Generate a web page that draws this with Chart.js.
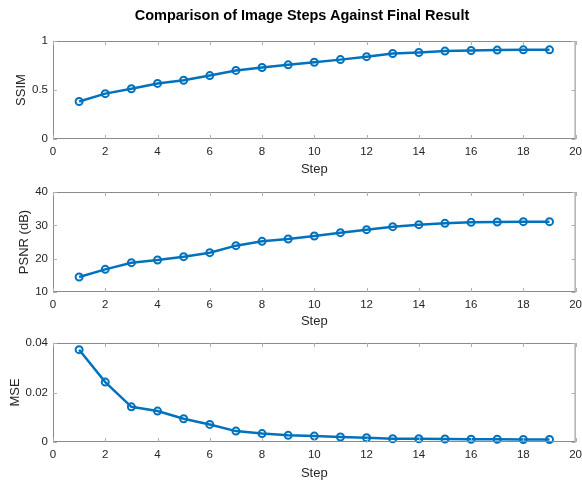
<!DOCTYPE html>
<html>
<head>
<meta charset="utf-8">
<script src="https://cdn.jsdelivr.net/npm/chart.js@4"></script>
<style>
  html, body { margin: 0; padding: 0; background: #fff; }
  #wrap { position: relative; width: 582px; height: 481px; }
  .panel { position: absolute; left: 0; width: 582px; }
  #titulo {
    position: absolute; top: 6px; left: 102px; width: 400px; text-align: center;
    font: bold 14.5px "Liberation Sans", Arial, Helvetica, sans-serif; color: #000;
    line-height: 18px; z-index: 2;
  }
</style>
</head>
<body>
<div id="wrap">
  <div id="titulo">Comparison of Image Steps Against Final Result</div>
  <div class="panel" style="top:0;height:176px"><canvas id="ssimChart"></canvas></div>
  <div class="panel" style="top:176px;height:153px"><canvas id="psnrChart"></canvas></div>
  <div class="panel" style="top:329px;height:152px"><canvas id="mseChart"></canvas></div>
</div>
<script>
// dados
const steps = [1, 2, 3, 4, 5, 6, 7, 8, 9, 10, 11, 12, 13, 14, 15, 16, 17, 18, 19];
const ssim = [0.383, 0.463, 0.513, 0.567, 0.60, 0.647, 0.70, 0.73, 0.757, 0.783, 0.81, 0.84, 0.873, 0.883, 0.897, 0.903, 0.907, 0.91, 0.91];
const psnr = [14.5, 16.8, 18.8, 19.6, 20.6, 21.8, 23.9, 25.2, 25.9, 26.8, 27.8, 28.7, 29.6, 30.2, 30.6, 30.9, 31.0, 31.1, 31.1];
const mse = [0.0373, 0.0242, 0.0142, 0.0125, 0.0094, 0.0071, 0.0044, 0.0034, 0.0027, 0.0024, 0.0020, 0.0017, 0.0013, 0.0013, 0.0012, 0.0011, 0.0011, 0.0010, 0.0010];
const xTicks = [0, 2, 4, 6, 8, 10, 12, 14, 16, 18, 20];
const ssimTicks = [0, 0.5, 1];
const psnrTicks = [10, 20, 30, 40];
const mseTicks = [0, 0.02, 0.04];

const BLUE = '#0072BD';
const TEXT = '#262626';
const BOX = '#8a8a8a';
const FONT = '"Liberation Sans", Arial, Helvetica, sans-serif';

// moldura + marcas internas no estilo MATLAB
const boxPlugin = {
    id: 'boxPlugin',
    afterDraw(chart) {
        const { ctx, chartArea: a, scales } = chart;
        ctx.save();
        ctx.strokeStyle = BOX;
        ctx.lineWidth = 1;
        ctx.strokeRect(a.left + 0.5, a.top + 0.5, a.right - a.left - 1, a.bottom - a.top - 1);
        ctx.strokeStyle = '#b0b0b0';
        ctx.beginPath();
        scales.x.ticks.forEach(t => {
            const px = Math.round(scales.x.getPixelForValue(t.value)) + 0.5;
            ctx.moveTo(px, a.bottom); ctx.lineTo(px, a.bottom - 4);
            ctx.moveTo(px, a.top); ctx.lineTo(px, a.top + 4);
        });
        scales.y.ticks.forEach(t => {
            const py = Math.round(scales.y.getPixelForValue(t.value)) + 0.5;
            ctx.moveTo(a.left, py); ctx.lineTo(a.left + 4, py);
            ctx.moveTo(a.right, py); ctx.lineTo(a.right - 4, py);
        });
        ctx.stroke();
        ctx.restore();
    }
};

function criarGrafico(id, valores, cfg) {
    const ctx = document.getElementById(id).getContext('2d');
    return new Chart(ctx, {
        type: 'line',
        data: {
            datasets: [{
                data: steps.map((s, i) => ({ x: s, y: valores[i] })),
                borderColor: BLUE,
                backgroundColor: '#ffffff',
                borderWidth: 2.5,
                pointRadius: 3.5,
                pointBorderWidth: 2,
                pointBackgroundColor: 'rgba(255,255,255,0)',
                pointBorderColor: BLUE,
                tension: 0,
                clip: false
            }]
        },
        options: {
            responsive: true,
            maintainAspectRatio: false,
            animation: false,
            layout: { padding: { top: cfg.padTop, right: 0, left: 0, bottom: 0 } },
            plugins: {
                legend: { display: false },
                tooltip: { enabled: false },
                title: { display: false }
            },
            scales: {
                x: {
                    type: 'linear',
                    min: 0, max: 20,
                    afterBuildTicks: s => { s.ticks = xTicks.map(v => ({ value: v })); },
                    afterFit: s => { s.height = cfg.xHeight; },
                    // tickLength em vez de padding para o "20" encostar na borda
                    grid: { display: false, drawTicks: true, tickLength: 6 },
                    border: { display: false },
                    ticks: { color: TEXT, font: { family: FONT, size: 11.5 }, padding: 0, maxRotation: 0, autoSkip: false },
                    title: { display: true, text: 'Step', color: TEXT, font: { family: FONT, size: 13, lineHeight: 1 }, padding: { top: 0, bottom: cfg.stepBottom } }
                },
                y: {
                    min: cfg.yMin, max: cfg.yMax,
                    afterBuildTicks: s => { s.ticks = cfg.yTicks.map(v => ({ value: v })); },
                    afterFit: s => { s.width = 53; },
                    grid: { display: false, drawTicks: false },
                    border: { display: false },
                    ticks: { color: TEXT, font: { family: FONT, size: 11.5 }, padding: 5, callback: v => String(v) },
                    title: { display: true, text: cfg.yLabel, color: TEXT, font: { family: FONT, size: 13, lineHeight: 1 }, padding: { top: cfg.yTitlePad, bottom: 0 } }
                }
            }
        },
        plugins: [boxPlugin]
    });
}

function init() {
    criarGrafico('ssimChart', ssim, {
        padTop: 41,
        yMin: 0, yMax: 1, yTicks: ssimTicks, yLabel: 'SSIM', yTitlePad: 15,
        xHeight: 37, stepBottom: 0.5
    });
    criarGrafico('psnrChart', psnr, {
        padTop: 16,
        yMin: 10, yMax: 40, yTicks: psnrTicks, yLabel: 'PSNR (dB)', yTitlePad: 17.5,
        xHeight: 37, stepBottom: 1.5
    });
    criarGrafico('mseChart', mse, {
        padTop: 14,
        yMin: 0, yMax: 0.04, yTicks: mseTicks, yLabel: 'MSE', yTitlePad: 8.5,
        xHeight: 39, stepBottom: 1.5
    });
}

document.addEventListener('DOMContentLoaded', init);
</script>
</body>
</html>
